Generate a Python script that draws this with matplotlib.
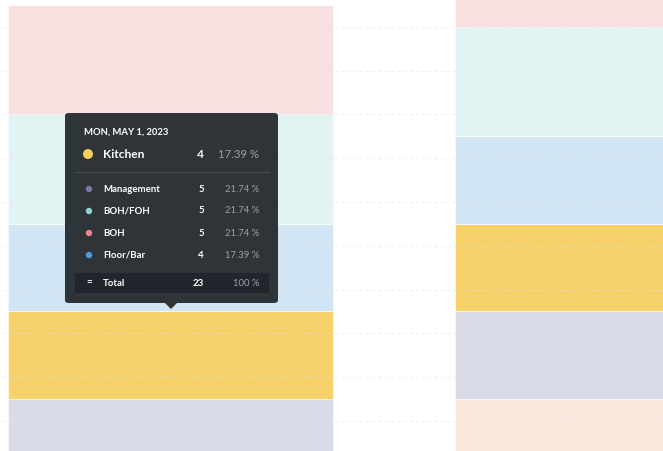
import numpy as np
import matplotlib
matplotlib.use("Agg")
import matplotlib.pyplot as plt
from matplotlib.patches import FancyBboxPatch, Polygon, Ellipse

# ── Data ───────────────────────────────────────────────────────
days = ["Mon, May 1, 2023", "Tue, May 2, 2023"]
series = ["Other", "Management", "Kitchen", "Floor/Bar", "BOH/FOH", "BOH"]
values = {
    "Other":      [0, 5],
    "Management": [5, 4],
    "Kitchen":    [4, 4],
    "Floor/Bar":  [4, 4],
    "BOH/FOH":    [5, 5],
    "BOH":        [5, 5],
}
fill_colors = {
    "Other":      "#fae7dc",
    "Management": "#d9dbe8",
    "Kitchen":    "#f7d16a",
    "Floor/Bar":  "#d2e5f4",
    "BOH/FOH":    "#e1f3f3",
    "BOH":        "#f8e0e0",
}
dot_colors = {
    "Management": "#7b78a9",
    "Kitchen":    "#f8cd5a",
    "Floor/Bar":  "#4b9be0",
    "BOH/FOH":    "#8dd4d1",
    "BOH":        "#ee8686",
}
highlight = "Kitchen"
tooltip_rows = ["Management", "BOH/FOH", "BOH", "Floor/Bar"]

W, H = 663, 451
fig = plt.figure(figsize=(W / 100, H / 100), dpi=100)
ax = fig.add_axes([0, 0, 1, 1])
ax.set_xlim(-0.381, 1.102)
ax.set_ylim(2.62, 23.23)
ax.axis("off")

# ── Stacked bars ───────────────────────────────────────────────
x = np.arange(len(days))
bottom = np.zeros(len(days))
for s in series:
    v = np.array(values[s], dtype=float)
    ax.bar(x, v, width=0.727, bottom=bottom, color=fill_colors[s],
           edgecolor="#ffffff", linewidth=0.4, zorder=1)
    bottom += v

# dashed grid, drawn faintly over the bars
for g in range(4, 24, 2):
    ax.axhline(g, xmin=0.005, color="#e3e6ea", lw=0.75, ls=(0, (3, 3)),
               alpha=0.6, zorder=2)


# ── Tooltip (pixel coordinates, origin top-left) ──────────────
def px(xp, yp):
    return xp / W, 1 - yp / H


def ftext(xp, yp, s, **kw):
    fx, fy = px(xp, yp)
    fig.text(fx, fy, s, va="center", family=["Lato", "DejaVu Sans"], **kw)


def dot(xp, yp, r, color):
    fig.add_artist(Ellipse(px(xp, yp), 2 * r / W, 2 * r / H,
                           transform=fig.transFigure, facecolor=color,
                           edgecolor="none", zorder=6))


BG = "#2f3439"
box = FancyBboxPatch(px(65, 303), 213 / W, 190 / H,
                     boxstyle="round,pad=0,rounding_size=0.006",
                     transform=fig.transFigure, facecolor=BG,
                     edgecolor="none", zorder=5)
fig.add_artist(box)
fig.add_artist(Polygon([px(164, 302), px(178, 302), px(171, 309)],
                       closed=True, transform=fig.transFigure,
                       facecolor=BG, edgecolor="none", zorder=5))

i = 0
total = sum(values[s][i] for s in series)

ftext(84, 132, days[i].upper(), color="white", fontsize=6.8,
      fontweight="bold", zorder=6)

# highlighted series
hv = values[highlight][i]
dot(88, 154, 5, dot_colors[highlight])
ftext(103, 154, highlight, color="white", fontsize=8.6, fontweight="bold",
      zorder=6)
ftext(204, 154, str(hv), color="white", fontsize=8.6, fontweight="bold",
      ha="right", zorder=6)
ftext(259, 154, f"{hv / total * 100:.2f} %", color="#9ba1a9",
      fontsize=8.2, ha="right", zorder=6)

fx0, fy0 = px(75, 172)
fx1, _ = px(269, 172)
fig.add_artist(plt.Line2D([fx0, fx1], [fy0, fy0], transform=fig.transFigure,
                          color="#454b52", lw=0.8, zorder=6))

for k, s in enumerate(tooltip_rows):
    yy = 189 + 22 * k
    v = values[s][i]
    dot(89, yy, 3.2, dot_colors[s])
    ftext(103, yy, s, color="white", fontsize=6.9, fontweight="bold", zorder=6)
    ftext(204, yy, str(v), color="white", fontsize=7, fontweight="bold",
          ha="right", zorder=6)
    ftext(259, yy, f"{v / total * 100:.2f} %", color="#9ba1a9",
          fontsize=6.8, ha="right", zorder=6)

tot = FancyBboxPatch(px(75, 293), 194 / W, 20 / H,
                     boxstyle="round,pad=0,rounding_size=0.004",
                     transform=fig.transFigure, facecolor="#22262c",
                     edgecolor="none", zorder=6)
fig.add_artist(tot)
ftext(89, 283, "=", color="white", fontsize=7, fontweight="bold",
      ha="center", zorder=7)
ftext(103, 283, "Total", color="white", fontsize=6.9, fontweight="bold",
      zorder=7)
ftext(204, 283, str(total), color="white", fontsize=7, fontweight="bold",
      ha="right", zorder=7)
ftext(259, 283, "100 %", color="#9ba1a9", fontsize=6.8, ha="right", zorder=7)

fig.savefig("out.png", dpi=100, facecolor="white")
